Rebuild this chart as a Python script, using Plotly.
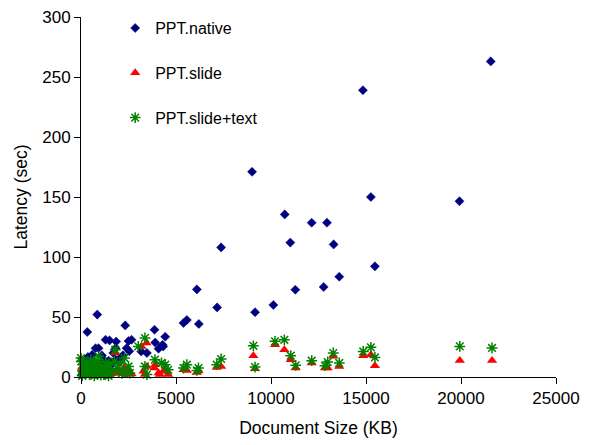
import plotly.graph_objects as go

# PPT.native (blue diamonds)
native_kb = [21566, 14838, 9003, 19920, 15258, 10722, 12141, 12946, 11017, 13297,
             7374, 15468, 13592, 12772, 11280, 6097, 10124, 7164, 9161, 5393,
             5571, 6202, 857, 331, 2328, 3869, 4431, 1503, 1850, 2502,
             925, 3905, 4290, 4080, 2539, 3169, 3469, 2029, 489, 400,
             1188, 767, 1293, 1819, 1819, 594, 100, 200, 300, 450,
             700, 900, 1000, 1150, 1350, 1450, 1600, 367, 50, 250,
             1100, 1700, 2200, 2050, 2660, 2398, 4326]
native_lat = [263, 239, 171, 146.5, 150, 135.5, 128.6, 128.6, 112, 110.5,
              108, 92.2, 83.6, 75, 72.75, 73, 60, 58, 54, 45,
              47.5, 44.2, 52, 37.5, 43, 39.4, 33.5, 30.5, 29.5, 30,
              24, 28.7, 26.8, 23.6, 21.5, 21.3, 20, 12.9, 15.8, 14.4,
              14.4, 24, 31, 24, 14.4, 18.6, 5, 8, 10, 6,
              12, 9, 4, 11, 7, 13.6, 10, 16.7, 2, 3,
              18, 20, 18, 15.8, 31, 24, 25.5]

# PPT.slide (red triangles)
slide_kb = [10212, 10702, 11038, 11301, 12141, 12841, 12982, 13277, 13592, 14853,
            15258, 15468, 19936, 21634, 9072, 9161, 7148, 7374, 6097, 5393,
            5571, 6183, 3185, 3448, 3469, 3905, 4080, 4431, 3869, 4395,
            3291, 3364, 4150, 4588, 2398, 2660, 1803, 2292, 2502, 2000,
            0, 100, 200, 300, 400, 500, 600, 700, 800, 900,
            1000, 1100, 1200, 1300, 1400, 1500, 50, 250, 150, 650,
            1700, 1900]
slide_lat = [26.9, 22.75, 14.4, 7.5, 11.7, 7.5, 7.5, 17.2, 8.8, 17.75,
             18.6, 9.4, 13.8, 13.8, 17.75, 6.9, 8, 8.8, 3.8, 6.1,
             5.5, 5, 25.5, 28.3, 8.8, 10.2, 3.3, 4.7, 7.5, 6,
             4.7, 2, 2, 2, 2, 2.5, 20, 8, 5, 3,
             14.4, 3, 6, 2, 9, 4, 1.5, 7, 3, 10,
             2, 5, 1.5, 8, 3, 2, 8, 11, 1, 12,
             4, 6]

# PPT.slide+text (green asterisks)
text_kb = [10212, 10702, 11038, 11301, 12141, 12841, 12982, 13277, 13592, 14853,
           15258, 15468, 19936, 21634, 9072, 9161, 7148, 7374, 6097, 6183,
           5393, 5571, 3364, 3012, 3890, 4237, 3364, 3469, 4431, 4588,
           2223, 2576, 1803, 2292, 2502, 925, 16, 0, 80, 150,
           220, 300, 380, 450, 520, 600, 680, 760, 840, 920,
           1000, 1100, 1200, 1300, 1400, 1500, 1600, 1750, 1900, 2050,
           2150, 60, 350, 700, 1050, 1450, 250]
text_lat = [29.7, 31, 17.75, 9.7, 13.6, 9.4, 12.5, 20, 11.7, 21.3,
            24.7, 16.3, 25.5, 24.2, 26, 8.3, 10.25, 15, 5.5, 7.5,
            7.5, 10.25, 32.5, 25.5, 14.4, 11.7, 8.8, 2, 10.25, 6,
            4.7, 3.3, 22.75, 15.8, 8.8, 17.2, 13, 15.8, 5, 10,
            3, 12, 7, 2, 14, 6, 11, 3, 8, 13,
            5, 9, 2, 12, 6, 10, 4, 13, 7, 11,
            3, 1, 4, 1, 1.5, 1, 8]

x_ticks = [0, 5000, 10000, 15000, 20000, 25000]
y_ticks = [0, 50, 100, 150, 200, 250, 300]

fig = go.Figure()
fig.add_trace(go.Scatter(
    x=native_kb, y=native_lat, mode="markers", name="PPT.native",
    legendgroup="a", cliponaxis=False,
    marker=dict(symbol="diamond", size=7, color="#000080",
                line=dict(width=0.5, color="#000080"))))
fig.add_trace(go.Scatter(
    x=slide_kb, y=slide_lat, mode="markers", name="PPT.slide",
    legendgroup="b", cliponaxis=False,
    marker=dict(symbol="triangle-up", size=9, color="#FF0000",
                line=dict(width=0))))
fig.add_trace(go.Scatter(
    x=text_kb, y=text_lat, mode="markers", name="PPT.slide+text",
    legendgroup="c", cliponaxis=False,
    marker=dict(symbol="asterisk-open", size=9, color="#008000",
                line=dict(width=1.5, color="#008000"))))

fig.update_layout(
    width=589, height=445,
    margin=dict(l=81, r=33, t=4, b=68, autoexpand=False),
    paper_bgcolor="white", plot_bgcolor="white",
    font=dict(family="Liberation Sans, Arial, sans-serif", size=17, color="black"),
    showlegend=True,
    legend=dict(x=0.072, y=0.981, xanchor="left", yanchor="top",
                traceorder="grouped", tracegroupgap=21,
                bgcolor="rgba(0,0,0,0)", font=dict(size=16)),
)
fig.update_xaxes(
    range=[0, 25000], tickvals=x_ticks, ticktext=[str(v) for v in x_ticks],
    showgrid=False, zeroline=False, showline=True, linecolor="black", linewidth=1,
    ticks="outside", ticklen=6, tickcolor="black", automargin=False,
    title=dict(text="Document Size (KB)", standoff=14, font=dict(size=17.5)))
fig.update_yaxes(
    domain=[0, 360 / 373],
    range=[0, 300], tickvals=y_ticks, ticktext=[str(v) for v in y_ticks],
    showgrid=False, zeroline=False, showline=True, linecolor="black", linewidth=1,
    ticks="outside", ticklen=6, tickcolor="black", automargin=False,
    title=dict(text="Latency (sec)", standoff=10, font=dict(size=17.5)))

fig.write_html("out.html")
